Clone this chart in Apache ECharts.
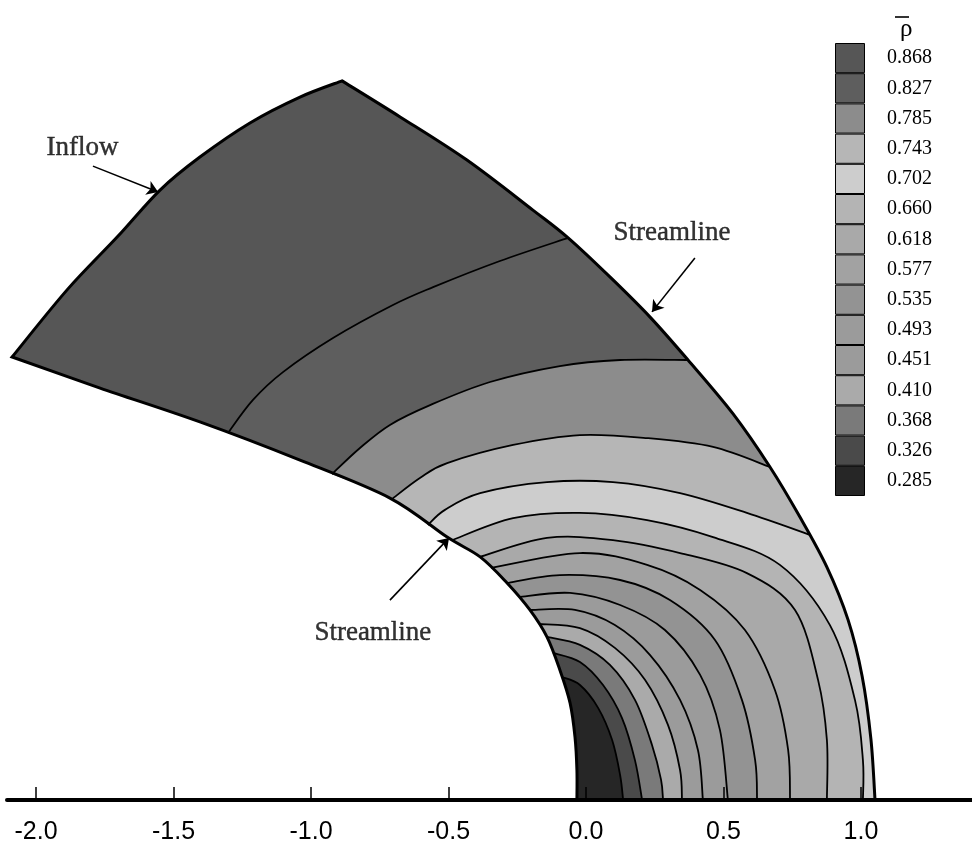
<!DOCTYPE html>
<html><head><meta charset="utf-8">
<script src="https://cdn.jsdelivr.net/npm/echarts@6/dist/echarts.min.js"></script>
<style>html,body{margin:0;padding:0;background:#fff}#c{width:972px;height:850px}</style>
</head><body><div id="c"></div>
<script>
// ---- data (x, y in axis units) ----
const levels = ['0.868','0.827','0.785','0.743','0.702','0.660','0.618','0.577','0.535','0.493','0.451','0.410','0.368','0.326','0.285'];
const xTicks = [-2.0, -1.5, -1.0, -0.5, 0.0, 0.5, 1.0];
const inflowBoundary = [[-2.087,1.611],[-1.887,1.855],[-1.705,2.047],[-1.549,2.218],[-1.404,2.338],[-1.222,2.462],[-1.040,2.556],[-0.887,2.615]];
const outerStreamline = [[-0.887,2.615],[-0.676,2.484],[-0.433,2.327],[-0.193,2.145],[-0.065,2.044],[0.087,1.902],[0.233,1.756],[0.371,1.600],[0.535,1.404],[0.669,1.211],[0.778,1.029],[0.876,0.847],[0.953,0.655],[1.004,0.451],[1.036,0.222],[1.051,0]];
const innerStreamline = [[-2.087,1.611],[-1.767,1.498],[-1.404,1.375],[-1.040,1.236],[-0.713,1.098],[-0.505,0.956],[-0.385,0.884],[-0.287,0.789],[-0.204,0.691],[-0.142,0.593],[-0.095,0.473],[-0.058,0.353],[-0.040,0.229],[-0.033,0.109],[-0.033,0]];
const contourA = [[-1.302,1.335],[-1.211,1.455],[-1.102,1.556],[-0.920,1.680],[-0.702,1.800],[-0.556,1.865],[-0.313,1.960],[-0.065,2.044]];
const contourB = [[-0.924,1.185],[-0.822,1.280],[-0.713,1.364],[-0.567,1.436],[-0.349,1.520],[-0.095,1.578],[0.124,1.600],[0.371,1.600]];
const contourC = [[-0.705,1.095],[-0.604,1.171],[-0.505,1.225],[-0.265,1.291],[-0.022,1.327],[0.222,1.316],[0.462,1.284],[0.669,1.211]];
const contourD = [[-0.575,1.000],[-0.513,1.055],[-0.385,1.116],[-0.142,1.156],[0.098,1.156],[0.342,1.116],[0.585,1.044],[0.815,0.964]];
const contourE = [[-0.487,0.945],[-0.265,1.025],[-0.022,1.044],[0.222,1.018],[0.462,0.956],[0.705,0.855],[0.887,0.636],[0.978,0.364],[1.007,0.145],[1.007,0]];
const contourF = [[-0.385,0.884],[-0.142,0.953],[0.098,0.945],[0.342,0.898],[0.585,0.825],[0.760,0.691],[0.844,0.436],[0.876,0.218],[0.876,0]];
const contourG = [[-0.345,0.844],[-0.022,0.898],[0.222,0.855],[0.415,0.764],[0.578,0.618],[0.687,0.400],[0.735,0.182],[0.742,0]];
const contourH = [[-0.287,0.789],[-0.095,0.818],[0.124,0.800],[0.305,0.727],[0.469,0.582],[0.567,0.364],[0.615,0.145],[0.622,0]];
const contourI = [[-0.244,0.738],[-0.058,0.753],[0.124,0.709],[0.287,0.618],[0.415,0.455],[0.487,0.255],[0.516,0]];
const contourJ = [[-0.204,0.691],[-0.040,0.691],[0.105,0.636],[0.233,0.527],[0.342,0.364],[0.407,0.182],[0.425,0]];
const contourK = [[-0.171,0.640],[-0.022,0.625],[0.105,0.553],[0.215,0.436],[0.298,0.273],[0.342,0.109],[0.349,0]];
const contourL = [[-0.142,0.593],[-0.022,0.564],[0.087,0.491],[0.178,0.364],[0.240,0.200],[0.273,0.073],[0.280,0]];
const contourM = [[-0.120,0.535],[-0.022,0.502],[0.062,0.418],[0.131,0.298],[0.178,0.145],[0.204,0]];
const contourN = [[-0.087,0.447],[-0.022,0.418],[0.044,0.335],[0.095,0.218],[0.124,0.091],[0.135,0]];
const labelTexts = ['Inflow','Streamline','Streamline'];
const labelAt = [[-1.831,2.371],[0.313,2.062],[-0.775,0.607]];
const arrowFrom = [[-1.793,2.305],[0.396,1.971],[-0.713,0.727]];
const arrowTo = [[-1.556,2.211],[0.240,1.775],[-0.498,0.953]];

// ---- style ----
const bandFill = ['#565656','#5e5e5e','#8c8c8c','#b6b6b6','#cdcdcd','#b4b4b4','#a9a9a9','#a2a2a2','#939393','#9b9b9b','#9b9b9b','#aaaaaa','#7a7a7a','#4a4a4a','#262626'];
const contours = [contourA,contourB,contourC,contourD,contourE,contourF,contourG,contourH,contourI,contourJ,contourK,contourL,contourM,contourN];
const GRID_LEFT = 7, X_MIN = -(586 - GRID_LEFT)/275, X_MAX = 386/275, Y_MAX = 800/275;

function curve(pts, move) {
  let d = (move ? 'M' : 'L') + pts[0][0].toFixed(2) + ' ' + pts[0][1].toFixed(2);
  for (let j = 0; j < pts.length - 1; j++) {
    const p0 = pts[j-1] || pts[j], p1 = pts[j], p2 = pts[j+1], p3 = pts[j+2] || pts[j+1];
    const c1 = [p1[0] + (p2[0]-p0[0])/6, p1[1] + (p2[1]-p0[1])/6];
    const c2 = [p2[0] - (p3[0]-p1[0])/6, p2[1] - (p3[1]-p1[1])/6];
    d += 'C' + c1[0].toFixed(2) + ' ' + c1[1].toFixed(2) + ' ' + c2[0].toFixed(2) + ' ' + c2[1].toFixed(2) + ' ' + p2[0].toFixed(2) + ' ' + p2[1].toFixed(2);
  }
  return d;
}
function bandPath(i, api) {
  const P = p => api.coord(p);
  const innerRev = innerStreamline.slice().reverse();
  if (i === 0) {
    return curve(inflowBoundary.map(P), true) + curve(outerStreamline.map(P), false) + curve(innerRev.map(P), false) + 'Z';
  }
  const c = contours[i-1], s = c[0], e = c[c.length-1];
  let d = curve(c.map(P), true);
  if (e[1] > 1e-6) {
    const op = [e].concat(outerStreamline.filter(p => p[1] < e[1] - 0.005));
    d += curve(op.map(P), false);
  }
  const ip = innerRev.filter(p => p[1] < s[1] - 0.005).concat([s]);
  d += curve(ip.map(P), false) + 'Z';
  return d;
}

const chart = echarts.init(document.getElementById('c'), null, {renderer: 'canvas'});
chart.setOption({
  animation: false,
  backgroundColor: '#fff',
  title: {text: 'ρ', left: 895, top: 12, textStyle: {fontFamily: 'Liberation Serif', fontSize: 25, fontWeight: 'normal', color: '#000'}},
  graphic: [{type: 'line', shape: {x1: 895, y1: 17, x2: 909, y2: 17}, style: {stroke: '#000', lineWidth: 1.6}}],
  grid: [{left: GRID_LEFT, right: 0, top: 0, bottom: 50}, {left: 835, top: 43, width: 30, height: 453}],
  xAxis: [{
    type: 'value', min: X_MIN, max: X_MAX, z: 10,
    axisLine: {onZero: false, lineStyle: {color: '#000', width: 4}},
    axisTick: {inside: true, length: 13, customValues: xTicks, lineStyle: {color: '#000', width: 1.5}},
    axisLabel: {customValues: xTicks, formatter: v => v.toFixed(1), fontFamily: 'Liberation Sans', fontSize: 25, color: '#000', margin: 20},
    splitLine: {show: false}
  }, {gridIndex: 1, type: 'value', min: 0, max: 1, show: false}],
  yAxis: [{type: 'value', min: 0, max: Y_MAX, show: false},
    {gridIndex: 1, type: 'category', position: 'right', data: levels.slice().reverse(),
     axisLine: {show: false}, axisTick: {show: false},
     axisLabel: {margin: 22, fontFamily: 'Liberation Serif', fontSize: 20, color: '#000'}}],
  series: [
    {type: 'custom', coordinateSystem: 'cartesian2d', silent: true, clip: false,
     data: levels.map((_, i) => [i]),
     renderItem: (params, api) => ({type: 'path', shape: {pathData: bandPath(params.dataIndex, api)}, style: {fill: bandFill[params.dataIndex], stroke: null}})},
    {type: 'custom', coordinateSystem: 'cartesian2d', silent: true, clip: false, z: 3,
     data: contours.map((_, i) => [i]).concat([[contours.length]]),
     renderItem: (params, api) => {
       const k = params.dataIndex, P = p => api.coord(p);
       if (k < contours.length) return {type: 'path', shape: {pathData: curve(contours[k].map(P), true)}, style: {fill: null, stroke: '#000', lineWidth: 1.8}};
       const d = curve(innerStreamline.slice().reverse().map(P), true) + curve(inflowBoundary.map(P), false) + curve(outerStreamline.map(P), false);
       return {type: 'path', shape: {pathData: d}, style: {fill: null, stroke: '#000', lineWidth: 3, lineJoin: 'miter'}};
     }},
    {type: 'lines', coordinateSystem: 'cartesian2d', z: 4, symbol: ['none', 'arrow'], symbolSize: 11,
     lineStyle: {color: '#000', width: 1.6, opacity: 1},
     data: arrowFrom.map((f, i) => ({coords: [f, arrowTo[i]]}))},
    {type: 'scatter', z: 5, symbolSize: 2, itemStyle: {color: 'rgba(0,0,0,0)'},
     data: labelAt.map((p, i) => [p[0], p[1], labelTexts[i]]),
     label: {show: true, position: 'inside', formatter: p => p.value[2], fontFamily: 'Liberation Serif', fontSize: 27, color: '#000', textBorderColor: '#000', textBorderWidth: 0.4}},
    {type: 'bar', xAxisIndex: 1, yAxisIndex: 1, barWidth: '100%', silent: true,
     data: levels.slice().reverse().map((l, i) => ({value: 1, itemStyle: {color: bandFill[levels.length - 1 - i]}})),
     itemStyle: {borderColor: '#000', borderWidth: 1}}
  ]
});
</script></body></html>
